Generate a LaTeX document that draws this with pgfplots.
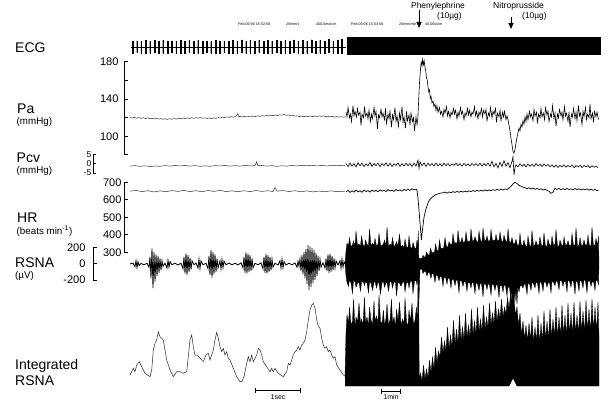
\documentclass[border=0pt]{standalone}
\usepackage{pgfplots}
\pgfplotsset{compat=1.18}
\usepackage{pgfplotstable}
\usepackage{fontspec}
\setmainfont{Liberation Sans}
\usetikzlibrary{arrows.meta}

\pgfplotsset{
  base/.style={x=1pt, clip=false, anchor=south west, xmax=600,
     /pgf/number format/assume math mode=true},
  scaleaxis/.style={base, axis x line=none, axis y line*=left,
     axis line style={-, line width=1pt, black},
     tick align=inside, ytick pos=left, xtick=\empty,
     major tick length=4pt,
     tick style={black, line width=1pt},
     yticklabel style={font=\fontsize{11}{11}\selectfont, anchor=east}},
  hidden/.style={base, hide axis, xmin=0},
}

\pgfplotstableread{
x up dn
132.5 6.0 -5.5
136.9 6.8 -5.0
141.2 6.2 -5.8
145.6 7.0 -5.2
149.9 6.4 -5.6
154.3 6.9 -5.0
158.7 6.1 -5.7
163.0 7.2 -5.3
167.4 6.5 -5.9
171.7 6.8 -5.1
176.1 6.0 -5.6
180.5 7.1 -5.2
184.8 6.3 -5.8
189.2 6.9 -5.0
193.5 6.2 -5.5
197.9 7.0 -5.3
202.3 6.4 -5.9
206.6 6.7 -5.1
211.0 6.1 -5.6
215.3 7.3 -5.2
219.7 6.5 -5.7
224.1 6.8 -5.0
228.4 6.2 -5.5
232.8 7.1 -5.3
237.1 6.4 -5.8
241.5 7.6 -5.1
245.9 6.3 -5.6
250.2 7.0 -5.2
254.6 6.5 -5.7
258.9 7.4 -5.0
263.3 6.2 -5.5
267.7 6.9 -5.3
272.0 6.4 -5.8
276.4 7.2 -5.1
280.7 6.6 -5.6
285.1 7.0 -5.2
289.5 6.3 -5.7
293.8 7.5 -5.0
298.2 6.5 -5.5
302.5 7.1 -5.3
306.9 6.4 -5.9
311.3 7.8 -5.1
315.6 6.6 -5.6
320.0 7.2 -5.2
324.3 6.5 -5.7
328.7 7.9 -5.0
333.1 6.8 -5.5
337.4 7.4 -5.3
341.8 8.2 -5.8
}\ecgbeats

\begin{document}
\begin{tikzpicture}
\path[use as bounding box] (0,0) rectangle (608pt,405pt);

% ---------------- ECG ----------------
\begin{axis}[hidden, ymin=-10, ymax=12, y=1pt, at={(0pt,347.5pt)}]
\addplot[black, line width=0.5pt] coordinates {(131,0) (346,0)};
\addplot[ybar, bar width=0.6pt, bar shift=0pt, fill=black, draw=black, line width=0.2pt] table[x=x,y=up]{\ecgbeats};
\addplot[ybar, bar width=0.6pt, bar shift=0pt, fill=black, draw=black, line width=0.2pt] table[x=x,y=dn]{\ecgbeats};
\addplot[fill=black, draw=black, line width=0.3pt] coordinates {(347,10.5) (600,10.5) (600,-6.8) (347,-6.8)};
\end{axis}

% ---------------- Pa ----------------
\begin{axis}[scaleaxis, xmin=124, ymin=80, ymax=180, y=0.93pt, at={(124pt,250pt)},
  ytick={80,100,120,140,160,180}, yticklabels={,100,,140,,180},
  yticklabel style={xshift=-2pt}]
\addplot[black!80, line width=0.5pt] coordinates {
(130,120.6) (132,119.8) (134.4,120.5) (136.6,119.6) (138.8,120.3) (141,119.4) (143.2,120.1) (145.4,119.2) (147.6,119.9) (149.8,119.0)
(152,119.6) (154.2,118.8) (156.4,119.4) (158.6,118.6) (160.8,119.2) (163,118.4) (165.2,119.0) (167.4,118.3) (169.6,119.0) (171.8,118.4)
(174,119.2) (176.2,118.6) (178.4,119.4) (180.6,118.9) (182.8,119.7) (185,119.1) (187.2,119.9) (189.4,119.3) (191.6,120.1) (193.8,119.4)
(196,120.2) (198.2,119.6) (200.4,120.3) (202.6,119.5) (204.8,120.0) (207,119.3) (209.2,119.8) (211.4,119.2) (213.6,119.9) (215.8,119.4)
(218,120.2) (220.2,119.8) (222.4,120.7) (224.6,120.2) (226.8,121.0) (229,120.5) (231.2,121.3) (233.4,120.7) (235.6,121.4) (237.8,124.5)
(238.6,121.0) (240,121.6) (242.2,120.9) (244.4,121.5) (246.6,120.9) (248.8,121.6) (251,121.0) (253.2,121.8) (255.4,121.3) (257.6,122.1)
(259.8,121.6) (262,122.3) (264.2,121.8) (266.4,122.6) (268.6,122.0) (270.8,122.8) (273,122.2) (275.2,123.0) (277.4,122.4) (279.6,123.2)
(281.8,122.8) (284,123.6) (286.2,122.7) (288.4,123.1) (290.6,122.2) (292.8,122.6) (295,121.7) (297.2,122.1) (299.4,121.3) (301.6,121.9)
(303.8,121.1) (306,121.8) (308.2,121.2) (310.4,121.9) (312.6,121.3) (314.8,122.0) (317,121.4) (319.2,122.1) (321.4,121.5) (323.6,122.0)
(325.8,121.3) (328,121.7) (330.2,121.0) (332.4,121.5) (334.6,120.8) (336.8,121.3) (339,120.7) (341.2,121.2) (343.4,120.6) (345.6,121.0)
};
\addplot[black, line width=0.6pt] coordinates {
(346,126) (347,121) (348,131) (349.5,120) (350.5,124) (351.5,116) (353,133) (354,122) (355,127) (356.5,121)
(357.5,130) (358.5,123) (360,126) (361,112) (362,124) (363.5,120) (364.5,132) (365.5,122) (367,125) (368,119)
(369,128) (370.5,116) (371.5,124) (372.5,119) (374,131) (375,122) (376,127) (377.5,108) (378.5,123) (379.5,120)
(381,129) (382,121) (383,125) (384.5,118) (385.5,130) (386.5,114) (388,124) (389,119) (390,127) (391.5,110)
(392.5,123) (393.5,118) (395,131) (396,116) (397,122) (398.5,111) (399.5,125) (400.5,118) (402,132) (403,115)
(404,121) (405.5,109) (406.5,127) (407.5,117) (409,123) (410,112) (411,125) (412.5,116) (413.5,120) (414.5,106)
(416,121) (417,113)
(417.7,117) (418.5,135) (419.5,158) (420.5,172) (421.2,180) (422,176) (422.7,183) (423.5,177) (424.2,181) (425,174)
(425.8,170) (426.5,163) (427.3,160) (428,153) (428.8,148) (429.5,150) (430.3,141) (431,143) (432,136) (433,138)
(434,132) (435,135) (436,128) (437,133) (438,126)
(439.5,131) (440.5,124) (441.5,127) (443,121) (444,129) (445,125) (446.5,132) (447.5,122) (448.5,127) (450,120)
(451,126) (452,123) (453.5,130) (454.5,124) (455.5,128) (457,119) (458,126) (459,122) (460.5,131) (461.5,124)
(462.5,127) (464,118) (465,125) (466,122) (467.5,130) (468.5,123) (469.5,128) (471,121) (472,126) (473,124)
(474.5,132) (475.5,122) (476.5,127) (478,119) (479,126) (480,123) (481.5,130) (482.5,121) (483.5,128) (485,124)
(486,129) (487,117) (488.5,125) (489.5,122) (490.5,131) (492,120) (493,127) (494,124) (495.5,130) (496.5,115)
(497.5,125) (499,121) (500,128) (501,117) (502.5,126) (503.5,121) (504.5,127) (506,118) (507,122)
(508,118) (509,112) (510,106) (511,98) (512,91) (513,84) (514,82) (515,86) (516,93) (517,99)
(518,104) (519,109) (520,106) (521,113) (522,110) (523,117) (524,113) (525,121) (526,116) (527,124) (528,118)
(529.5,127) (530.5,121) (531.5,124) (533,117) (534,129) (535,122) (536.5,126) (537.5,114) (538.5,124) (540,120)
(541,130) (542,121) (543.5,125) (544.5,118) (545.5,131) (547,123) (548,127) (549,116) (550.5,124) (551.5,121)
(552.5,133) (554,119) (555,125) (556,111) (557.5,124) (558.5,120) (559.5,129) (561,122) (562,126) (563,118)
(564.5,132) (565.5,122) (566.5,125) (568,116) (569,126) (570,110) (571.5,124) (572.5,121) (573.5,130) (575,119)
(576,126) (577,117) (578.5,133) (579.5,122) (580.5,125) (582,113) (583,127) (584,121) (585.5,131) (586.5,118)
(587.5,124) (589,120) (590,135) (591,119) (592.5,125) (593.5,115) (594.5,127) (596,121) (597,126) (598.5,118)
};
\end{axis}

% ---------------- Pcv ----------------
\begin{axis}[scaleaxis, xmin=93, ymin=-5, ymax=5, y=1.8pt, at={(93pt,232pt)},
  major tick length=3pt,
  ytick={-5,0,5}, yticklabels={-5,0,5},
  yticklabel style={font=\fontsize{8.5}{8.5}\selectfont, xshift=2pt}]
\addplot[black!80, line width=0.5pt] coordinates {
(130,-1.2) (135,-0.9) (140,-1.3) (145,-1.0) (150,-1.4) (155,-1.1) (160,-1.3) (165,-0.9) (170,-1.2) (175,-0.8)
(180,-1.1) (185,-0.8) (190,-1.2) (195,-0.9) (200,-1.3) (205,-1.0) (210,-1.3) (215,-0.9) (220,-1.1) (225,-0.8)
(230,-1.2) (235,-0.9) (240,-1.2) (245,-0.8) (250,-1.1) (255,-0.9) (256.5,1.2) (258,-1.0) (262,-0.8) (267,-1.2)
(272,-0.9) (277,-1.3) (282,-1.0) (287,-1.2) (292,-0.8) (297,-1.1) (302,-0.7) (307,-1.0) (312,-0.7) (317,-1.1)
(322,-0.8) (327,-1.1) (332,-0.7) (337,-1.0) (342,-0.7) (345,-0.9)
};
\addplot[black, line width=0.6pt] coordinates {
(346,0.3) (348,-1.5) (350,0.5) (352,-1.2) (354,0.2) (356,-1.6) (358,0.6) (360,-1.0) (362,0.4) (364,-1.4)
(366,0.1) (368,-1.1) (370,0.8) (372,-1.3) (374,0.2) (376,-0.9) (378,0.5) (380,-1.5) (382,0.3) (384,-1.0)
(386,0.6) (388,-1.2) (390,0.4) (392,-1.4) (394,0.1) (396,-0.8) (398,0.5) (400,-1.3) (402,0.2) (404,-1.1)
(406,0.4) (408,-1.0) (410,0.3) (412,-1.4) (414,0.5) (416,-1.2) (418,2.2) (419,-2.5) (420,1.2) (422,-1.0)
(424,0.6) (426,-1.3) (428,0.4) (430,-0.9) (432,0.3) (434,-1.1) (436,0.5) (438,-1.0) (440,0.2) (442,-1.2)
(444,0.4) (446,-0.9) (448,0.3) (450,-1.1) (452,0.1) (454,-0.8) (456,0.4) (458,-1.0) (460,0.2) (462,-1.2)
(464,0.3) (466,-0.9) (468,0.1) (470,-1.1) (472,0.3) (474,-0.8) (476,0.2) (478,-1.0) (480,0.4) (482,-1.2)
(484,0.2) (486,-0.9) (488,0.5) (490,-1.3) (492,1.5) (494,-1.6) (496,0.4) (498,-2.2) (500,1.0) (502,-1.4)
(504,1.8) (506,-1.2) (508,0.8) (510,-2.0) (512,1.5) (513,4.0) (514,-6.0) (515,-2.0) (516,-0.5) (518,-1.6)
(520,0.1) (522,-1.3) (524,-0.2) (526,-1.5) (528,0.0) (530,-1.2) (532,-0.1) (534,-1.4) (536,0.2) (538,-1.0)
(540,-0.2) (542,-1.3) (544,0.0) (546,-1.1) (548,-0.3) (550,-1.5) (552,-0.4) (554,-1.8) (556,-0.6) (558,-1.9)
(560,-0.7) (562,-1.7) (564,-0.5) (566,-1.8) (568,-0.8) (570,-1.6) (572,-0.6) (574,-2.0) (576,-0.9) (578,-1.7)
(580,-0.7) (582,-1.9) (584,-0.8) (586,-1.6) (588,-0.9) (590,-2.0) (592,-1.0) (594,-1.8) (596,-1.1) (598,-2.2)
};
\end{axis}

% ---------------- HR ----------------
\begin{axis}[scaleaxis, xmin=124, ymin=300, ymax=700, y=0.1745pt, at={(124pt,152.7pt)},
  ytick={300,400,500,600,700}, yticklabels={300,400,500,600,700},
  yticklabel style={xshift=1pt}]
\addplot[black!80, line width=0.5pt] coordinates {
(130,650) (136,655) (142,648) (148,653) (154,646) (160,652) (166,647) (172,654) (178,649) (184,655)
(190,648) (196,653) (202,647) (208,654) (214,649) (220,655) (226,648) (232,652) (238,647) (244,653)
(250,648) (256,654) (262,649) (268,653) (273,648) (275,672) (277,650) (283,654) (289,648) (295,653)
(301,647) (307,652) (313,646) (319,651) (325,647) (331,652) (337,648) (345,650)
};
\addplot[black, line width=0.7pt] coordinates {
(346,647) (348,655) (350,643) (352,652) (354,645) (356,657) (358,646) (360,653) (362,644) (364,656)
(366,648) (368,654) (370,645) (372,657) (374,649) (376,655) (378,647) (380,658) (382,650) (384,656)
(386,648) (388,659) (390,651) (392,657) (394,649) (396,660) (398,652) (400,658) (402,650) (404,661)
(406,654) (408,662) (410,655) (412,664) (414,657) (416,662) (417,655) (418,610) (419,540) (420,470)
(421,400) (421.4,370) (422.2,415) (423.3,468) (424,500) (425,525) (426,550) (427.3,571) (428.5,590) (430,604)
(432,615) (433.5,622) (435,628) (437,633) (439,636) (441,640) (443,641) (445,645) (447,639) (449,646)
(451,641) (453,648) (455,643) (457,649) (459,644) (461,650) (463,645) (465,651) (467,646) (469,652)
(471,648) (473,654) (475,649) (477,655) (479,650) (481,656) (483,651) (485,657) (487,652) (489,658)
(491,653) (493,659) (495,655) (497,660) (499,656) (501,662) (503,657) (505,663) (507,660) (509,668)
(511,678) (513,692) (515,701) (517,694) (519,684) (521,679) (523,673) (525,670) (527,665) (529,670)
(531,663) (533,668) (535,661) (537,666) (539,660) (541,664) (543,657) (545,662) (547,655) (549,650)
(551,638) (553,645) (555,667) (557,660) (559,666) (561,658) (563,665) (565,659) (567,666) (569,660)
(571,664) (573,658) (575,665) (577,659) (579,664) (581,657) (583,663) (585,658) (587,664) (589,656)
(591,662) (593,655) (595,660) (597,653) (598.5,656)
};
\end{axis}

% ---------------- RSNA ----------------
\begin{axis}[scaleaxis, xmin=93, ymin=-200, ymax=200, y=0.08pt, at={(93pt,125pt)},
  ytick={-200,0,200}, yticklabels={-200,0,200},
  yticklabel style={xshift=-4pt}]
\addplot[black, line width=0.8pt] coordinates {
(130,0) (133,12) (135,-35) (136,40) (137,-45) (138,30) (139,-20) (141,8) (144,-10) (147,10)
(149,-40) (150,90) (151,-180) (152,196) (153,-300) (154,150) (155,-220) (156,120) (157,-150) (158,100)
(159,-110) (160,70) (161,-80) (162,40) (163,-30) (165,10) (167,-50) (168,45) (169,-40) (170,30)
(172,-10) (175,10) (178,-12) (181,10) (183,-60) (184,90) (185,-120) (186,133) (187,-137) (188,110)
(189,-100) (190,80) (191,-70) (192,40) (194,-10) (196,12) (198,-50) (199,60) (200,-55) (201,40)
(203,-10) (206,10) (208,-60) (209,100) (210,-140) (211,175) (212,-170) (213,150) (214,-130) (215,120)
(216,-100) (217,70) (218,-50) (220,40) (221,-60) (222,55) (223,-45) (224,35) (226,-10) (229,12)
(232,-10) (235,10) (238,-12) (241,15) (243,-50) (244,90) (245,-110) (246,146) (247,-120) (248,130)
(249,-100) (250,110) (251,-90) (252,70) (253,-50) (255,10) (258,-10) (261,15) (263,-60) (264,90)
(265,-110) (266,125) (267,-120) (268,110) (269,-100) (270,90) (271,-80) (272,60) (273,-40) (275,10)
(278,-12) (280,40) (281,-50) (282,60) (283,-45) (284,30) (286,-12) (289,10) (292,-10) (295,12)
(297,-40) (298,35) (299,-30) (300,60) (301,-90) (302,110) (303,-130) (304,150) (305,-180) (306,190)
(307,-250) (308,237) (309,-325) (310,220) (311,-290) (312,200) (313,-240) (314,180) (315,-200) (316,140)
(317,-150) (318,100) (319,-90) (320,60) (321,-40) (323,15) (325,-50) (326,70) (327,-90) (328,120)
(329,-110) (330,130) (331,-100) (332,100) (333,-80) (334,70) (335,-50) (336,40) (338,-12) (340,40)
(341,-50) (342,60) (343,-40) (344,30) (345,0)
};
\addplot[fill=black, draw=black, line width=0.3pt] coordinates {
(345,0) (346,160) (347,260) (348.5,230) (349.5,330) (351,215) (352.5,240) (353.5,290) (355,225) (356,410)
(357.5,235) (359,250) (360.5,220) (361.5,350) (363,240) (364.5,215) (365.5,300) (367,245) (368.5,230) (369.5,440)
(371,225) (372.5,260) (374,235) (375,320) (376.5,220) (378,250) (379,380) (380.5,240) (382,225) (383.5,255)
(384.5,300) (386,230) (387,460) (388.5,220) (390,245) (391.5,235) (392.5,330) (394,215) (395.5,240) (396.5,280)
(398,225) (399.5,370) (401,210) (402.5,230) (404,205) (405,310) (406.5,215) (408,200) (409,350) (410.5,210)
(412,195) (413,270) (414.5,205) (416,190) (417,300) (417.8,180)
(418.2,420) (418.8,80) (420,60) (421,75) (422,65) (423,110) (424,85) (425.5,95) (426.5,150) (428,110)
(429.5,120) (430.5,200) (432,135) (433.5,150) (434.5,140) (435.5,250) (437,165) (438.5,175) (439.5,300) (441,190)
(442.5,200) (443.5,185) (445,330) (446.5,210) (448,220) (449,280)
(450.5,240) (452,255) (453,380) (454.5,250) (456,270) (457,245) (458,420) (459.5,265) (461,280) (462,330)
(463.5,260) (465,285) (466,400) (467.5,270) (469,290) (470,275) (471,440) (472.5,280) (474,300) (475,340)
(476.5,285) (478,270) (479,410) (480.5,295) (482,280) (483,450) (484.5,290) (486,300) (487,350) (488.5,280)
(490,295) (491,430) (492.5,285) (494,300) (495,290) (496,370) (497.5,285) (499,300) (500,400) (501.5,290)
(503,280) (504,360) (505.5,295) (507,270) (508,440) (509.5,260) (511,280) (512,330) (513.5,245) (515,260)
(516,310) (517.5,230) (519,245)
(520,380) (521.5,225) (523,240) (524,300) (525.5,230) (527,215) (528,350) (529.5,235) (531,220) (532,420)
(533.5,225) (535,240) (536,290) (537.5,230) (539,245) (540,340) (541.5,225) (543,235) (544,390) (545.5,215)
(547,230) (548,310) (549.5,240) (551,225) (552,350) (553.5,235) (555,245) (556,430) (557.5,230) (559,220)
(560,300) (561.5,240) (563,225) (564,340) (565.5,230) (567,245) (568,290) (569.5,225) (571,235) (572,380)
(573.5,230) (575,240) (576,450) (577.5,220) (579,235) (580,330) (581.5,225) (583,240) (584,300) (585.5,230)
(587,245) (588,360) (589.5,220) (591,235) (592,460) (593.5,225) (595,240) (596,320) (597.5,230) (598.5,350)
(599,0)
(598.5,-260) (597.5,-210) (596,-200) (595,-330) (593.5,-215) (592,-230) (591,-280) (589.5,-200) (588,-220) (587,-360)
(585.5,-210) (584,-195) (583,-300) (581.5,-215) (580,-205) (579,-340) (577.5,-225) (576,-210) (575,-380) (573.5,-220)
(572,-205) (571,-290) (569.5,-215) (568,-200) (567,-350) (565.5,-210) (564,-225) (563,-280) (561.5,-200) (560,-215)
(559,-320) (557.5,-220) (556,-210) (555,-270) (553.5,-230) (552,-215) (551,-360) (549.5,-225) (548,-240) (547,-290)
(545.5,-220) (544,-230) (543,-340) (541.5,-235) (540,-220) (539,-370) (537.5,-240) (536,-230) (535,-300) (533.5,-245)
(532,-230) (531,-330) (529.5,-250) (528,-240) (527,-380) (525.5,-255) (524,-250) (523,-300) (521.5,-265) (520,-280)
(519,-350) (517.8,-290) (517,-500) (516,-320) (515,-470) (514,-350) (513,-520) (512,-330) (511,-450) (509.5,-300)
(508,-280) (507,-400) (505.5,-270) (504,-265) (503,-350) (501.5,-260) (500,-275) (499,-420) (497.5,-255) (496,-265)
(495,-330) (493.5,-250) (492,-260) (491,-390) (489.5,-255) (488,-250) (487,-320) (485.5,-245) (484,-255) (483,-410)
(481.5,-240) (480,-250) (479,-330) (477.5,-245) (476,-235) (475,-370) (473.5,-240) (472,-230) (471,-300) (469.5,-225)
(468,-235) (467,-340) (465.5,-215) (464,-225) (463,-280) (461.5,-205) (460,-215) (459,-360) (457.5,-200) (456,-205)
(455,-270) (453.5,-190) (452,-195) (451,-300) (449.5,-175) (448,-180) (447,-250) (445.5,-165) (444,-170) (443,-280)
(441.5,-150) (440,-160) (439,-210) (437.5,-140) (436,-145) (435,-230) (433.5,-125) (432,-120) (431,-180) (429.5,-105)
(428,-110) (427,-150) (425.5,-90) (424,-95) (423,-120) (422,-70) (421,-60) (420,-70) (418.8,-520) (418.2,-200)
(417.8,-190) (417,-260) (416,-205) (414.5,-215) (413,-370) (412,-220) (410.5,-210) (409,-300) (408,-225) (406.5,-235)
(405,-350) (404,-220) (402.5,-230) (401,-280) (399.5,-240) (398,-225) (396.5,-400) (395.5,-235) (394,-220) (392.5,-300)
(391.5,-230) (390,-215) (388.5,-340) (387,-225) (386,-240) (384.5,-290) (383.5,-220) (382,-230) (380.5,-380) (379,-240)
(378,-225) (376.5,-300) (375,-215) (374,-230) (372.5,-330) (371,-240) (369.5,-225) (368.5,-360) (367,-235) (365.5,-220)
(364.5,-270) (363,-210) (361.5,-230) (360.5,-340) (359,-225) (357.5,-240) (356,-290) (355,-220) (353.5,-210) (352.5,-370)
(351,-235) (349.5,-200) (348.5,-280) (347,-230) (346,-150) (345,0)
};
\end{axis}

% ---------------- Integrated RSNA ----------------
\begin{axis}[hidden, ymin=0, ymax=120, y=1pt, at={(0pt,18pt)}]
\addplot[black!85, line width=0.5pt] coordinates {
(130,12) (133.3,18.7) (135,15.3) (136.7,22) (139.3,25.3) (141.7,20.3) (145,13.7) (150,10.3) (151.7,17) (153.3,37)
(155,43.7) (156.7,47) (158.3,55.3) (160,50.3) (161.7,48.7) (163.3,47) (165,37) (166.7,27) (170,17) (173.3,10.3)
(176.7,15.3) (180,15.3) (183.3,13.7) (186.7,15.3) (188.3,30.3) (190,47) (191.7,52) (193.3,40.3) (195,32) (197.3,32)
(200,28.7) (203.3,25.3) (206,32) (208.3,33.7) (210,27) (213.3,37) (215,47) (216.7,54.7) (218.3,48.7) (220,40.3)
(221.7,35.3) (223.3,38.7) (225,32) (226.7,35.3) (228.3,28.7) (230,27) (233.3,18.7) (236.7,10.3) (240,5.3) (241.7,5.3)
(244,10.3) (246.7,23.7) (248.3,30.3) (250,25.3) (251.7,32) (253.3,25.3) (256.7,32) (258.3,38.7) (260,37) (261.7,32)
(263.3,25.3) (266.7,20.3) (270,15.3) (271.7,18.7) (273.3,15.3) (275,18.7) (278.3,13.7) (283.3,10.3) (286.7,15.3) (288.3,23.7)
(290,22) (291.7,27) (293.3,32) (295,35.3) (296.7,37) (298.3,40.3) (300,37) (301.7,42) (303.3,43.7) (305,47)
(306.7,55.3) (308.3,67) (310,77) (311.7,82) (313.3,83.7) (315,78.7) (316.7,67) (318.3,60.3) (320,58.7) (321.7,48.7)
(323.3,42) (325,38.7) (326.7,40.3) (328.3,35.3) (330,37) (331.7,32) (333.3,28.7) (335,30.3) (336.7,22) (340,17)
(343.3,12) (345,11)
};
\addplot[fill=black, draw=black, line width=0.3pt] coordinates {
(345,10) (346,55) (347,72) (348.5,64) (349.5,80) (351,62) (352.5,66) (353.5,88) (355,60) (356,70)
(357.5,65) (359,84) (360.5,63) (361.5,68) (363,62) (364.5,90) (365.5,64) (367,70) (368.5,61) (369.5,80)
(371,67) (372.5,62) (374,86) (375,66) (376.5,71) (378,64) (379,92) (380.5,66) (382,63) (383.5,77)
(384.5,61) (386,69) (387,83) (388.5,62) (390,67) (391.5,88) (392.5,64) (394,70) (395.5,60) (396.5,78)
(398,66) (399.5,85) (401,62) (402.5,68) (404,63) (405,89) (406.5,65) (408,61) (409,77) (410.5,66)
(412,84) (413.5,62) (415,67) (416.5,80) (417.5,60)
(418,110) (418.6,110) (419.2,8) (420.5,14) (422,6) (423.5,22) (425,8) (426.5,18) (428,9) (429.5,27)
(431,14) (432.5,30) (434,18) (435.5,40) (437,24) (438.5,36) (440,30) (441.5,50) (443,34) (444.5,46)
(446,36) (447.5,60) (449,38) (450.5,52) (452,40) (453.5,67) (455,42) (456.5,58) (458,44) (459.5,72)
(461,46) (462.5,60) (464,47) (465.5,74) (467,49) (468.5,62) (470,50) (471.5,78) (473,52) (474.5,66)
(476,53) (477.5,80) (479,55) (480.5,68) (482,56) (483.5,82) (485,58) (486.5,70) (488,60) (489.5,84)
(491,62) (492.5,74) (494,63) (495.5,86) (497,65) (498.5,78) (500,68) (501.5,88) (503,70) (504.5,80)
(506,73) (507.5,90) (509,78) (510.5,92) (512,86) (513,97) (514,88) (515.5,72) (517,80) (518.5,62)
(520,74) (521.5,52) (523,66) (524.5,48) (526,62) (527.5,46) (529,64) (530.5,47) (532,70) (533.5,45)
(535,60) (536.5,46) (538,72) (539.5,44) (541,64) (542.5,46) (544,76) (545.5,47) (547,66) (548.5,48)
(550,78) (551.5,49) (553,68) (554.5,50) (556,80) (557.5,50) (559,70) (560.5,51) (562,82) (563.5,52)
(565,72) (566.5,51) (568,84) (569.5,53) (571,74) (572.5,52) (574,85) (575.5,54) (577,72) (578.5,53)
(580,86) (581.5,55) (583,76) (584.5,54) (586,87) (587.5,56) (589,78) (590.5,55) (592,88) (593.5,57)
(595,80) (596.5,56) (598,85) (599,50)
(599,1) (517,1) (515,5) (513,9) (511,5) (509,1) (345,1)
};
\end{axis}

% ---------------- labels ----------------
\begin{scope}[every node/.style={inner sep=0pt, anchor=base west}]
\node[font=\fontsize{14}{14}\selectfont] at (15pt,352pt) {ECG};
\node[font=\fontsize{14}{14}\selectfont] at (17pt,291pt) {Pa};
\node[font=\fontsize{9.8}{9.8}\selectfont] at (16.5pt,280pt) {(mmHg)};
\node[font=\fontsize{14}{14}\selectfont] at (16.5pt,242.5pt) {Pcv};
\node[font=\fontsize{9.8}{9.8}\selectfont] at (16.5pt,231.5pt) {(mmHg)};
\node[font=\fontsize{14}{14}\selectfont] at (17pt,182.5pt) {HR};
\node[font=\fontsize{9.8}{9.8}\selectfont] at (16.5pt,171pt) {(beats min\textsuperscript{-1})};
\node[font=\fontsize{14}{14}\selectfont] at (15pt,137.5pt) {RSNA};
\node[font=\fontsize{9.8}{9.8}\selectfont] at (15pt,126.5pt) {(µV)};
\node[font=\fontsize{14}{14}\selectfont] at (15pt,36pt) {Integrated};
\node[font=\fontsize{14}{14}\selectfont] at (15pt,20pt) {RSNA};
% drug annotations
\node[font=\fontsize{8.4}{8.4}\selectfont] at (411pt,396pt) {Phenylephrine};
\node[font=\fontsize{8.4}{8.4}\selectfont] at (437pt,386pt) {(10µg)};
\node[font=\fontsize{8.6}{8.6}\selectfont] at (493pt,396pt) {Nitroprusside};
\node[font=\fontsize{8.4}{8.4}\selectfont] at (522pt,386pt) {(10µg)};
% recorder stamps
\node[font=\fontsize{3.7}{3.7}\selectfont] at (238pt,379pt) {Feb.09,96 15:52:58};
\node[font=\fontsize{3.7}{3.7}\selectfont] at (286pt,379pt) {25mm/s};
\node[font=\fontsize{3.7}{3.7}\selectfont] at (316pt,379pt) {400.0ms/cm};
\node[font=\fontsize{3.7}{3.7}\selectfont] at (351pt,379pt) {Feb.09,96 15:53:58};
\node[font=\fontsize{3.7}{3.7}\selectfont] at (399pt,379pt) {25mm/min};
\node[font=\fontsize{3.7}{3.7}\selectfont] at (425pt,379pt) {40.00s/cm};
\end{scope}

\draw[line width=1pt, -{Triangle[width=5pt,length=6pt]}] (419pt,395pt) -- (419pt,377pt);
\draw[line width=1pt, -{Triangle[width=5pt,length=6pt]}] (511pt,388pt) -- (511pt,376pt);

% scale bars
\draw[line width=0.8pt] (255pt,15pt) -- (300pt,15pt);
\draw[line width=0.8pt] (255pt,12.5pt) -- (255pt,17.5pt);
\draw[line width=0.8pt] (300pt,12.5pt) -- (300pt,17.5pt);
\node[font=\fontsize{7}{7}\selectfont, inner sep=0pt, anchor=base] at (278pt,5.5pt) {1sec};
\draw[line width=0.8pt] (381.5pt,14pt) -- (400.5pt,14pt);
\draw[line width=0.8pt] (381.5pt,11.5pt) -- (381.5pt,16.5pt);
\draw[line width=0.8pt] (400.5pt,11.5pt) -- (400.5pt,16.5pt);
\node[font=\fontsize{7}{7}\selectfont, inner sep=0pt, anchor=base] at (391pt,5.5pt) {1min};
\end{tikzpicture}
\end{document}
